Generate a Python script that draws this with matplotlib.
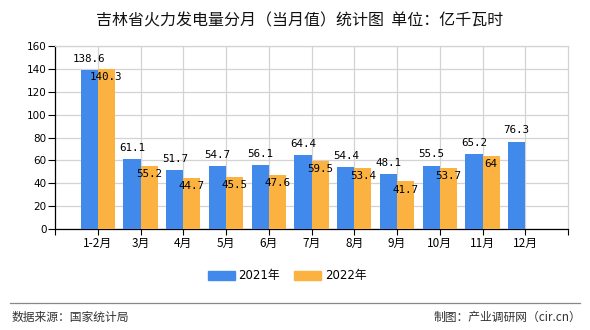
import matplotlib
matplotlib.use("Agg")
import matplotlib.pyplot as plt
from matplotlib.patches import Rectangle
from matplotlib.lines import Line2D

plt.rcParams['font.family'] = ['Noto Sans CJK SC', 'DejaVu Sans']

categories = ["1-2月", "3月", "4月", "5月", "6月", "7月", "8月", "9月", "10月", "11月", "12月"]
values_2021 = [138.6, 61.1, 51.7, 54.7, 56.1, 64.4, 54.4, 48.1, 55.5, 65.2, 76.3]
values_2022 = [140.3, 55.2, 44.7, 45.5, 47.6, 59.5, 53.4, 41.7, 53.7, 64, None]
series_names = ["2021年", "2022年"]
yticks = [0, 20, 40, 60, 80, 100, 120, 140, 160]
title = "吉林省火力发电量分月（当月值）统计图  单位：亿千瓦时"
source_left = "数据来源：国家统计局"
source_right = "制图：产业调研网（cir.cn）"

BLUE = "#418AEC"
ORANGE = "#FBB241"
GRID = "#d3d3d3"

W, H = 590, 330
fig = plt.figure(figsize=(W / 100, H / 100), dpi=100)
ax = fig.add_axes([55 / W, (H - 229) / H, 513 / W, 183 / H])

x = list(range(len(categories)))
bw = 0.4
xb = [i - bw / 2 for i in x]
xo = [i + bw / 2 for i in x]
ax.bar(xb, values_2021, width=bw, color=BLUE, zorder=3)
v22 = [v if v is not None else 0 for v in values_2022]
ax.bar(xo, v22, width=bw, color=ORANGE, zorder=3)

num_font = dict(family=['DejaVu Sans Mono'], fontsize=7.8, color='black')
for xi, v in zip(xb, values_2021):
    ax.annotate(f"{v:g}", (xi, v), xytext=(0, 4.5), textcoords='offset points',
                ha='center', va='bottom', zorder=5, **num_font)
for xi, v in zip(xo, values_2022):
    if v is None:
        continue
    ax.annotate(f"{v:g}", (xi, v), xytext=(0, -2.5), textcoords='offset points',
                ha='center', va='top', zorder=5, **num_font)

ax.set_xlim(-1, len(categories))
ax.set_ylim(0, 160)
ax.set_yticks(yticks)
ax.set_yticklabels([str(t) for t in yticks], fontsize=7.5, family=['DejaVu Sans'])
ax.set_xticks(x)
ax.set_xticklabels(categories, fontsize=8.5)
ax.set_xticks([-1, len(categories)], minor=True)
ax.tick_params(axis='x', which='both', length=4, width=0.8, color='black', pad=2)
ax.tick_params(axis='y', length=5, width=0.8, color='black', pad=1)

ax.grid(True, color=GRID, linewidth=0.9, zorder=0)
ax.set_axisbelow(True)
for s in ['top', 'right']:
    ax.spines[s].set_color(GRID)
    ax.spines[s].set_linewidth(0.9)
for s in ['left', 'bottom']:
    ax.spines[s].set_color('black')
    ax.spines[s].set_linewidth(0.9)

fig.text(300 / W, 1 - 21 / H, title, ha='center', va='center', fontsize=11.5, color='#111111')

# legend
handles = [Rectangle((0, 0), 1, 1, color=BLUE), Rectangle((0, 0), 1, 1, color=ORANGE)]
fig.legend(handles, series_names, loc='center', bbox_to_anchor=(287 / W, 1 - 276 / H),
           ncol=2, frameon=False, handlelength=2.3, handleheight=0.9,
           handletextpad=0.3, columnspacing=1.2,
           prop={'family': ['DejaVu Sans', 'Noto Sans CJK SC'], 'size': 8.5})

fig.add_artist(Line2D([10 / W, 580 / W], [1 - 303 / H, 1 - 303 / H], color='#888888', linewidth=0.9))
fig.text(12 / W, 1 - 317 / H, source_left, ha='left', va='center', fontsize=8.5, color='#333333')
fig.text(581 / W, 1 - 317 / H, source_right, ha='right', va='center', fontsize=8.5, color='#333333')

fig.savefig("out.png", dpi=100)
